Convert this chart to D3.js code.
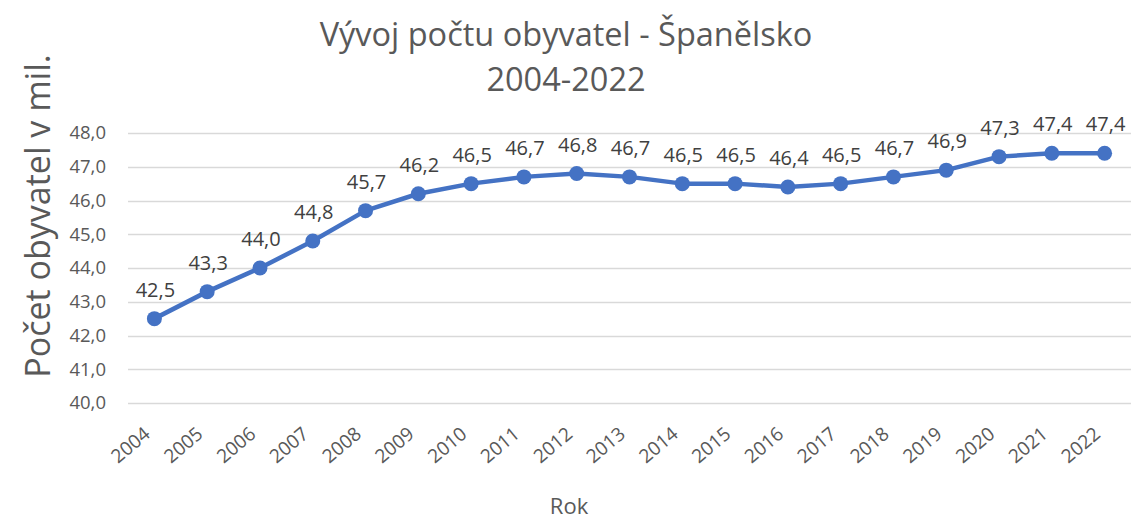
<!DOCTYPE html>
<html>
<head>
<meta charset="utf-8">
<script src="https://cdn.jsdelivr.net/npm/d3@7"></script>
<style>
  body { margin: 0; background: #fff; }
  text { font-family: "Open Sans", "Noto Sans", sans-serif; fill: #595959; }
</style>
</head>
<body>
<script>
// data
var years = ["2004", "2005", "2006", "2007", "2008", "2009", "2010", "2011", "2012", "2013",
             "2014", "2015", "2016", "2017", "2018", "2019", "2020", "2021", "2022"];
var population = [42.5, 43.3, 44.0, 44.8, 45.7, 46.2, 46.5, 46.7, 46.8, 46.7,
                  46.5, 46.5, 46.4, 46.5, 46.7, 46.9, 47.3, 47.4, 47.4];
var yTicks = [40, 41, 42, 43, 44, 45, 46, 47, 48];

var width = 1132,
    height = 520;

var margin = {left: 128, right: 1, top: 133, bottom: 117};

var svg = d3.select("body")
    .append("svg")
    .attr("width", width)
    .attr("height", height);

var x = d3.scaleBand()
    .domain(years)
    .range([margin.left, width - margin.right]);

var y = d3.scaleLinear()
    .domain([40, 48])
    .range([height - margin.bottom, margin.top]);

var fmt = function (v) { return d3.format(".1f")(v).replace(".", ","); };

//gridlines
svg.append("g")
    .selectAll("line")
    .data(yTicks)
    .enter()
    .append("line")
    .attr("x1", margin.left)
    .attr("x2", width - margin.right)
    .attr("y1", function (d) { return Math.round(y(d)) + 0.5; })
    .attr("y2", function (d) { return Math.round(y(d)) + 0.5; })
    .attr("stroke", "#d9d9d9")
    .attr("stroke-width", 1.3);

//y tick labels
svg.append("g")
    .selectAll("text")
    .data(yTicks)
    .enter()
    .append("text")
    .attr("x", 106)
    .attr("y", function (d) { return y(d); })
    .attr("dy", "0.35em")
    .attr("text-anchor", "end")
    .style("font-size", "18.5px")
    .text(fmt);

//x labels, rotated
svg.append("g")
    .selectAll("text")
    .data(years)
    .enter()
    .append("text")
    .attr("transform", function (d) {
        var cx = x(d) + x.bandwidth() / 2 - 3;
        return "translate(" + cx + ",436) rotate(-40)";
    })
    .attr("text-anchor", "end")
    .style("font-size", "19px")
    .text(function (d) { return d; });

//line
var line = d3.line()
    .x(function (d, i) { return x(years[i]) + x.bandwidth() / 2; })
    .y(function (d) { return y(d); });

svg.append("path")
    .datum(population)
    .attr("fill", "none")
    .attr("stroke", "#4472c4")
    .attr("stroke-width", 4.5)
    .attr("stroke-linejoin", "round")
    .attr("d", line);

svg.append("g")
    .selectAll("circle")
    .data(population)
    .enter()
    .append("circle")
    .attr("cx", function (d, i) { return x(years[i]) + x.bandwidth() / 2; })
    .attr("cy", function (d) { return y(d); })
    .attr("r", 7.5)
    .attr("fill", "#4472c4");

//data labels
svg.append("g")
    .selectAll("text")
    .data(population)
    .enter()
    .append("text")
    .attr("x", function (d, i) { return x(years[i]) + x.bandwidth() / 2 + 1; })
    .attr("y", function (d) { return y(d) - 22; })
    .attr("text-anchor", "middle")
    .style("font-size", "20px")
    .style("fill", "#404040")
    .text(fmt);

//title
svg.append("text")
    .attr("x", 566)
    .attr("y", 46)
    .attr("text-anchor", "middle")
    .style("font-size", "32.5px")
    .text("Vývoj počtu obyvatel - Španělsko");

svg.append("text")
    .attr("x", 566)
    .attr("y", 91)
    .attr("text-anchor", "middle")
    .style("font-size", "32.5px")
    .text("2004-2022");

//axis titles
svg.append("text")
    .attr("transform", "translate(50,216) rotate(-90)")
    .attr("text-anchor", "middle")
    .style("font-size", "34px")
    .text("Počet obyvatel v mil.");

svg.append("text")
    .attr("x", 569)
    .attr("y", 514)
    .attr("text-anchor", "middle")
    .style("font-size", "22px")
    .text("Rok");
</script>
</body>
</html>
